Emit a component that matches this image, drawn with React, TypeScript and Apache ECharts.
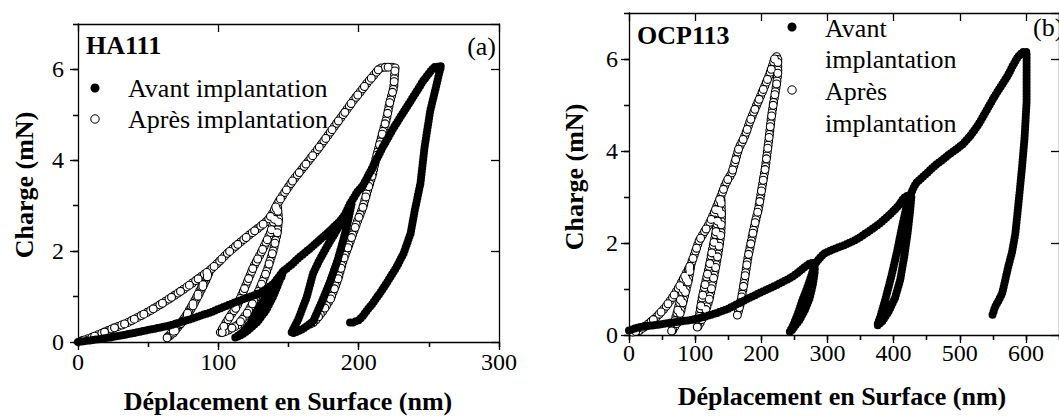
import React, { useEffect, useRef } from 'react';
import * as echarts from 'echarts';

type P = [number, number];

// Panel (a) HA111 — load (mN) vs displacement (nm)
const haAvant: P[] = [
  [0, 0], [10, 0.04], [23, 0.1], [37, 0.18], [51, 0.27], [65, 0.36], [80, 0.5], [95, 0.66], [110, 0.85], [120, 0.97], [130, 1.08], [138, 1.25], [145, 1.43], [146, 1.55],
  [143, 1.3], [139, 1.0], [134, 0.7], [128, 0.45], [121, 0.25], [115, 0.13], [112, 0.1],
  [117, 0.2], [123, 0.42], [127, 0.65], [131, 0.85], [136, 1.1], [141, 1.35], [146, 1.55],
  [152, 1.7], [158, 1.87], [165, 2.05], [172, 2.24], [180, 2.46], [187, 2.67], [192, 2.88], [195, 3.05],
  [192, 2.6], [189, 2.24], [185, 1.8], [180, 1.36], [174, 0.9], [167.5, 0.45], [160, 0.28], [154, 0.2], [152, 0.2],
  [157, 0.5], [163, 0.99], [167.5, 1.51], [172, 1.8], [177, 2.08], [187, 2.6], [194, 3.05],
  [199, 3.3], [203, 3.44], [210, 3.85], [217, 4.28], [225, 4.72], [234, 5.16], [240, 5.45], [246, 5.75], [251, 5.95], [254, 6.05], [259, 6.07],
  [258, 6.0], [255, 5.6], [251, 5.09], [247, 4.3], [244, 3.49], [240, 2.9], [237, 2.39], [232, 1.95], [227, 1.65], [221, 1.35], [215, 1.07], [210, 0.85], [206, 0.7], [203, 0.57], [200, 0.48], [196, 0.43], [192, 0.43],
];

const haApres: P[] = [
  [0, 0], [8, 0.08], [16, 0.18], [25, 0.3], [35, 0.42], [43, 0.55], [51, 0.68], [60, 0.85], [70, 1.05], [78, 1.22], [86, 1.4], [94, 1.58],
  [91, 1.35], [87, 1.1], [82, 0.8], [76, 0.5], [70, 0.3], [65, 0.15], [63, 0.08],
  [68, 0.2], [73, 0.4], [78, 0.63], [83, 0.9], [87, 1.14], [91, 1.38], [94, 1.58],
  [100, 1.75], [106, 1.94], [115, 2.18], [123, 2.38], [129, 2.52], [135, 2.67], [139, 2.85], [142, 3.04],
  [143, 2.7], [142, 2.39], [139, 2.0], [135, 1.6], [132, 1.36], [127, 1.0], [121, 0.65], [114, 0.38], [106, 0.24], [101, 0.19],
  [105, 0.4], [109, 0.6], [113, 0.77], [119, 1.2], [125, 1.65], [131, 2.0], [137, 2.39], [140, 2.7], [142, 3.04],
  [147, 3.28], [153, 3.55], [160, 3.82], [170, 4.21], [177, 4.5], [184, 4.8], [190, 5.05], [196, 5.31], [201, 5.5], [206, 5.7], [211, 5.88], [215, 6.03], [220, 6.05], [226, 6.05],
  [225, 5.6], [222, 5.25], [220, 4.93], [217, 4.6], [215, 4.36], [212, 4.0], [210, 3.7], [206, 3.3], [203, 2.96], [199, 2.65], [196, 2.39], [192, 2.05], [189, 1.8], [185, 1.36], [180, 0.95], [175, 0.7], [170, 0.5], [167, 0.41], [164, 0.38],
];

// Panel (b) OCP113
const ocpAvant: P[] = [
  [0, 0.1], [10, 0.15], [20, 0.18], [42, 0.22], [65, 0.27], [91, 0.32], [110, 0.38], [131, 0.47], [150, 0.57], [166, 0.69], [185, 0.83], [206, 0.97], [225, 1.1], [245, 1.25], [255, 1.35], [265, 1.47], [273, 1.55], [280, 1.58],
  [281, 1.4], [278, 1.1], [273, 0.8], [266, 0.55], [258, 0.33], [250, 0.18], [245, 0.08], [243, 0.07],
  [248, 0.2], [255, 0.45], [262, 0.75], [270, 1.05], [276, 1.3], [280, 1.5], [284, 1.6],
  [290, 1.7], [295, 1.77], [310, 1.87], [325, 1.95], [340, 2.05], [352, 2.15], [364, 2.27], [377, 2.4], [390, 2.56], [400, 2.7], [409, 2.84], [414, 2.95], [419, 3.02], [427, 3.03],
  [425, 2.7], [421, 2.2], [416, 1.7], [410, 1.2], [402, 0.8], [392, 0.5], [383, 0.3], [377, 0.22], [375, 0.2],
  [380, 0.4], [388, 0.8], [397, 1.3], [405, 1.8], [412, 2.3], [418, 2.7], [424, 3.0], [430, 3.2],
  [434, 3.3], [445, 3.45], [455, 3.58], [464, 3.7], [475, 3.82], [485, 3.94], [495, 4.04], [504, 4.14], [516, 4.33], [528, 4.57], [540, 4.87], [553, 5.2], [563, 5.42], [573, 5.65], [580, 5.85], [588, 6.05], [595, 6.15], [601, 6.15],
  [601, 5.5], [601, 5.07], [598, 4.3], [594, 3.63], [589, 2.9], [584, 2.2], [579, 1.8], [573, 1.47], [568, 1.15], [564, 0.9], [558, 0.73], [553, 0.6], [550, 0.45], [548, 0.42],
];

const ocpApres: P[] = [
  [0, 0.05], [8, 0.07], [16, 0.1], [30, 0.25], [42, 0.4], [55, 0.6], [66, 0.82], [76, 1.05], [86, 1.33], [94, 1.55],
  [90, 1.2], [84, 0.85], [78, 0.5], [72, 0.25], [66, 0.1], [64, 0.07],
  [69, 0.3], [74, 0.55], [80, 0.9], [86, 1.2], [94, 1.55],
  [100, 1.8], [106, 2.05], [113, 2.22], [121, 2.41], [130, 2.7], [139, 3.02],
  [140, 2.6], [139, 2.2], [135, 1.8], [131, 1.47], [126, 1.1], [121, 0.76], [114, 0.45], [107, 0.25], [103, 0.15],
  [106, 0.4], [110, 0.76], [115, 1.1], [121, 1.47], [126, 1.85], [131, 2.2], [135, 2.6], [139, 3.02],
  [145, 3.25], [150, 3.4], [155, 3.5], [160, 3.75], [166, 4.06], [171, 4.2], [176, 4.36], [183, 4.65], [191, 4.93], [199, 5.2], [206, 5.44], [212, 5.65], [218, 5.9], [221, 6.05], [225, 6.05],
  [225, 5.7], [223, 5.44], [219, 5.1], [215, 4.71], [211, 4.2], [206, 3.63], [201, 3.2], [196, 2.76], [190, 2.4], [185, 2.05], [180, 1.7], [176, 1.33], [173, 1.05], [170, 0.8], [167, 0.6], [163, 0.39],
];

const seriesNames = ['Avant implantation', 'Après implantation'];
const panelNames = ['HA111', 'OCP113'];
const panelTags = ['(a)', '(b)'];
const yTitle = 'Charge (mN)';
const xTitle = 'Déplacement en Surface (nm)';
const xMax = [300, 650];
const yMax = 7;

const SERIF = 'Liberation Serif';
const LINE = { color: '#000', width: 1.3 };

function axesFor(gi: number, xmax: number, yLabelMargin: number, xLabelMargin: number) {
  const label = { show: true, color: '#000', fontSize: 24, fontFamily: SERIF };
  const xs = [
    { gridIndex: gi, type: 'value', position: 'bottom', min: 0, max: xmax, interval: 100,
      axisLine: { show: true, onZero: false, lineStyle: LINE },
      axisTick: { show: true, inside: false, length: 8, lineStyle: LINE },
      axisLabel: { ...label, margin: xLabelMargin, showMaxLabel: xmax % 100 === 0 },
      splitLine: { show: false } },
    { gridIndex: gi, type: 'value', position: 'bottom', min: 0, max: xmax, interval: 50,
      axisLine: { show: false }, axisTick: { show: true, inside: false, length: 5, lineStyle: LINE },
      axisLabel: { show: false }, splitLine: { show: false } },
    { gridIndex: gi, type: 'value', position: 'top', min: 0, max: xmax, interval: 100,
      axisLine: { show: true, onZero: false, lineStyle: LINE },
      axisTick: { show: true, inside: true, length: 8, lineStyle: LINE },
      axisLabel: { show: false }, splitLine: { show: false } },
    { gridIndex: gi, type: 'value', position: 'top', min: 0, max: xmax, interval: 50,
      axisLine: { show: false }, axisTick: { show: true, inside: true, length: 5, lineStyle: LINE },
      axisLabel: { show: false }, splitLine: { show: false } },
  ];
  const ys = [
    { gridIndex: gi, type: 'value', position: 'left', min: 0, max: yMax, interval: 2,
      axisLine: { show: true, onZero: false, lineStyle: LINE },
      axisTick: { show: true, inside: false, length: 8, lineStyle: LINE },
      axisLabel: { ...label, margin: yLabelMargin, showMaxLabel: false },
      splitLine: { show: false } },
    { gridIndex: gi, type: 'value', position: 'left', min: 0, max: yMax, interval: 1,
      axisLine: { show: false }, axisTick: { show: true, inside: false, length: 5, lineStyle: LINE },
      axisLabel: { show: false }, splitLine: { show: false } },
    { gridIndex: gi, type: 'value', position: 'right', min: 0, max: yMax, interval: 2,
      axisLine: { show: true, onZero: false, lineStyle: LINE },
      axisTick: { show: true, inside: true, length: 8, lineStyle: LINE },
      axisLabel: { show: false }, splitLine: { show: false } },
    { gridIndex: gi, type: 'value', position: 'right', min: 0, max: yMax, interval: 1,
      axisLine: { show: false }, axisTick: { show: true, inside: true, length: 5, lineStyle: LINE },
      axisLabel: { show: false }, splitLine: { show: false } },
  ];
  return { xs, ys };
}

function dotSeries(name: string, data: P[], axis: number, width: number, color: string, period: number, offset: number) {
  return {
    name, type: 'line', data, xAxisIndex: axis, yAxisIndex: axis,
    symbol: 'none', silent: true,
    lineStyle: { color, width, type: [0, period], dashOffset: period - offset, cap: 'round', join: 'round' },
  };
}

// open circles: three interleaved passes, each a black dot with a white centre
function openSeries(data: P[], axis: number) {
  const s = 3.6;
  const out: any[] = [];
  for (let k = 0; k < 3; k++) {
    out.push(dotSeries(seriesNames[1], data, axis, 9, '#000', 3 * s, k * s));
    out.push(dotSeries(seriesNames[1], data, axis, 6.8, '#fff', 3 * s, k * s));
  }
  return out;
}

function panelSeries(avant: P[], apres: P[], axis: number) {
  return [...openSeries(apres, axis), dotSeries(seriesNames[0], avant, axis, 8, '#000', 3, 0)];
}

function txt(x: number, y: number, text: string, opts: any = {}) {
  return {
    type: 'text', x, y, z: 10, rotation: opts.rotation || 0,
    style: {
      text, fill: '#000', fontSize: opts.size || 26, fontWeight: opts.bold ? 'bold' : 'normal',
      fontFamily: SERIF, align: opts.align || 'left', verticalAlign: 'middle',
    },
  };
}

export default function App() {
  const ref = useRef<HTMLDivElement>(null);
  useEffect(() => {
    if (!ref.current) return;
    const chart = echarts.init(ref.current, undefined, { renderer: 'svg' });
    const a = axesFor(0, xMax[0], 14, 8);
    const b = axesFor(1, xMax[1], 11, 6);
    chart.setOption({
      animation: false,
      backgroundColor: '#fff',
      grid: [
        { left: 78, top: 24, width: 421, height: 318, containLabel: false },
        { left: 629, top: 13, width: 435, height: 322, containLabel: false },
      ],
      xAxis: [...a.xs, ...b.xs],
      yAxis: [...a.ys, ...b.ys],
      series: [...panelSeries(haAvant, haApres, 0), ...panelSeries(ocpAvant, ocpApres, 4)],
      graphic: [
        txt(24, 185, yTitle, { bold: true, align: 'center', rotation: Math.PI / 2 }),
        txt(288, 401, xTitle, { bold: true, align: 'center' }),
        txt(86, 45, panelNames[0], { bold: true }),
        txt(496, 46, panelTags[0], { align: 'right' }),
        { type: 'circle', z: 10, shape: { cx: 95, cy: 88, r: 4.5 }, style: { fill: '#000' } },
        txt(128, 88, seriesNames[0]),
        { type: 'circle', z: 10, shape: { cx: 95, cy: 119, r: 4.2 }, style: { fill: '#fff', stroke: '#000', lineWidth: 1 } },
        txt(128, 119, seriesNames[1]),

        txt(574, 177, yTitle, { bold: true, align: 'center', rotation: Math.PI / 2 }),
        txt(842, 396, xTitle, { bold: true, align: 'center' }),
        txt(637, 35, panelNames[1], { bold: true }),
        txt(1033, 27, panelTags[1]),
        { type: 'circle', z: 10, shape: { cx: 792, cy: 27, r: 4.5 }, style: { fill: '#000' } },
        txt(825, 28, 'Avant'),
        txt(825, 59, 'implantation'),
        { type: 'circle', z: 10, shape: { cx: 792, cy: 90, r: 4.2 }, style: { fill: '#fff', stroke: '#000', lineWidth: 1 } },
        txt(825, 91, 'Après'),
        txt(825, 123, 'implantation'),
      ],
    });
    return () => chart.dispose();
  }, []);
  return <div ref={ref} style={{ position: 'absolute', left: 0, top: 0, width: 1059, height: 416 }} />;
}
